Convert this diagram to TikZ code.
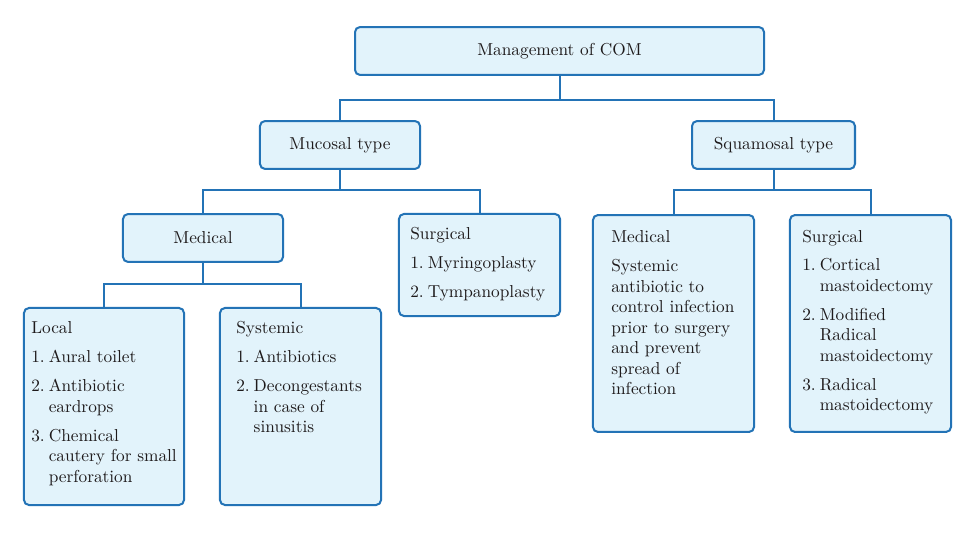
\documentclass[tikz,border=0pt]{standalone}
\usepackage{tikz}
\usetikzlibrary{positioning}
\usetikzlibrary{calc}
\definecolor{boxline}{HTML}{2373B6}
\definecolor{boxfill}{HTML}{E2F3FB}
\definecolor{txtcol}{HTML}{1E1A1B}

\begin{document}
\begin{tikzpicture}[
		x=0.578pt, y=-0.578pt,
		every node/.style = {
			text=txtcol,
			font=\fontsize{10}{11.85}\selectfont
		},
		box/.style = {
			shape=rectangle,
			draw=boxline,
			fill=boxfill,
			line width=1.16pt,
			rounded corners=2.9pt,
			inner sep=0pt
		},
		boxtext/.style = {
			anchor=base west,
			inner sep=0pt,
			align=left
		},
		link/.style = {
			draw=boxline,
			line width=1.16pt
		}
		]
		\useasboundingbox (0,0) rectangle (979,533);

		\node[box, minimum width=236.4pt, minimum height=27.7pt] (com) at (559.5,51) {Management of COM};
		\node[box, minimum width=92.5pt, minimum height=27.7pt] (mucosal) at (340,145) {Mucosal type};
		\node[box, minimum width=94.2pt, minimum height=27.7pt] (squamosal) at (773.5,145) {Squamosal type};

		\node[box, minimum width=92.5pt, minimum height=27.7pt] (mucmed) at (203,238) {Medical};
		\node[box, minimum width=93.1pt, minimum height=59pt] (mucsurg) at (479.5,265) {};
		\node[box, minimum width=93.1pt, minimum height=125.4pt] (squmed) at (673.5,323.5) {};
		\node[box, minimum width=93.1pt, minimum height=125.4pt] (squsurg) at (870.5,323.5) {};

		\node[box, minimum width=92.5pt, minimum height=113.9pt] (local) at (104,406.5) {};
		\node[box, minimum width=93.1pt, minimum height=113.9pt] (systemic) at (300.5,406.5) {};

		% texts of the tall boxes
		\node[boxtext] (mucsurgtxt) at ($(mucsurg.north west)+(12,27)$) {%
			\begin{tabular}[t]{@{}l@{\hspace{2.3pt}}l@{}}
				\multicolumn{2}{@{}l@{}}{Surgical}\\[4.9pt]
				1. & Myringoplasty\\[4.9pt]
				2. & Tympanoplasty
			\end{tabular}};
		\node[boxtext] (squmedtxt) at ($(squmed.north west)+(19,28)$) {%
			\begin{tabular}[t]{@{}l@{}}
				Medical\\[5.2pt]
				Systemic\\
				antibiotic to\\
				control infection\\
				prior to surgery\\
				and prevent\\
				spread of\\
				infection
			\end{tabular}};
		\node[boxtext] (squsurgtxt) at ($(squsurg.north west)+(13,28)$) {%
			\begin{tabular}[t]{@{}l@{\hspace{2.3pt}}l@{}}
				\multicolumn{2}{@{}l@{}}{Surgical}\\[4.9pt]
				1. & Cortical\\
				   & mastoidectomy\\[4.9pt]
				2. & Modified\\
				   & Radical\\
				   & mastoidectomy\\[4.9pt]
				3. & Radical\\
				   & mastoidectomy
			\end{tabular}};
		\node[boxtext] (localtxt) at ($(local.north west)+(8,27)$) {%
			\begin{tabular}[t]{@{}l@{\hspace{2.3pt}}l@{}}
				\multicolumn{2}{@{}l@{}}{Local}\\[4.9pt]
				1. & Aural toilet\\[4.9pt]
				2. & Antibiotic\\
				   & eardrops\\[4.9pt]
				3. & Chemical\\
				   & cautery for small\\
				   & perforation
			\end{tabular}};
		\node[boxtext] (systemictxt) at ($(systemic.north west)+(17,27)$) {%
			\begin{tabular}[t]{@{}l@{\hspace{2.3pt}}l@{}}
				\multicolumn{2}{@{}l@{}}{Systemic}\\[4.9pt]
				1. & Antibiotics\\[4.9pt]
				2. & Decongestants\\
				   & in case of\\
				   & sinusitis
			\end{tabular}};

		% connectors
		\coordinate (jcom) at ($(com.south)+(0,24)$);
		\coordinate (jmuc) at ($(mucosal.south)+(0,20)$);
		\coordinate (jsqu) at ($(squamosal.south)+(0,20)$);
		\coordinate (jmed) at ($(mucmed.south)+(0,21)$);
		\draw[link] (com.south) -- (jcom) -| (mucosal.north);
		\draw[link] (jcom) -| (squamosal.north);
		\draw[link] (mucosal.south) -- (jmuc) -| (mucmed.north);
		\draw[link] (jmuc) -| (mucsurg.north);
		\draw[link] (squamosal.south) -- (jsqu) -| (squmed.north);
		\draw[link] (jsqu) -| (squsurg.north);
		\draw[link] (mucmed.south) -- (jmed) -| (local.north);
		\draw[link] (jmed) -| (systemic.north);
\end{tikzpicture}
\end{document}
